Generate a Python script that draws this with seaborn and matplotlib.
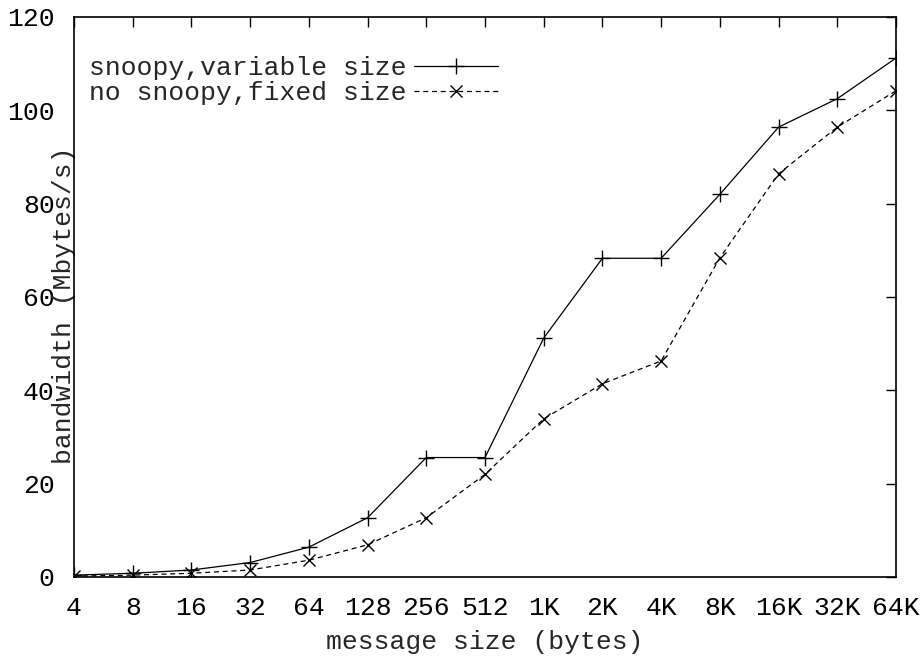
import matplotlib
matplotlib.use("Agg")
import matplotlib.pyplot as plt
import seaborn as sns
import pandas as pd
import numpy as np

sizes = ["4", "8", "16", "32", "64", "128", "256", "512", "1K", "2K", "4K", "8K", "16K", "32K", "64K"]
snoopy_variable = [0.4, 0.8, 1.5, 3.1, 6.4, 12.7, 25.6, 25.6, 51.2, 68.3, 68.3, 82.0, 96.4, 102.5, 111.2]
nosnoopy_fixed = [0.2, 0.4, 0.8, 1.5, 3.6, 6.9, 12.7, 22.0, 33.9, 41.4, 46.3, 68.4, 86.4, 96.4, 104.2]
series_names = ["snoopy,variable size", "no snoopy,fixed size"]
y_ticks = [0, 20, 40, 60, 80, 100, 120]

sns.set_style("white")
plt.rcParams["font.family"] = ["Liberation Mono", "DejaVu Sans Mono"]
plt.rcParams["font.size"] = 19

fig = plt.figure(figsize=(9.24, 6.6), dpi=100)
ax = fig.add_axes([74/924, 1-577/660, (896-74)/924, (577-17)/660])

pos = np.arange(len(sizes))
df1 = pd.DataFrame({"pos": pos, "bw": snoopy_variable})
df2 = pd.DataFrame({"pos": pos, "bw": nosnoopy_fixed})

sns.lineplot(data=df1, x="pos", y="bw", ax=ax, color="black", lw=0.9,
             marker="+", markersize=11, markeredgewidth=1.0, markeredgecolor="black",
             label=series_names[0])
sns.lineplot(data=df2, x="pos", y="bw", ax=ax, color="black", lw=0.9,
             linestyle=(0, (4, 3)), marker="x", markersize=8, markeredgewidth=1.0,
             markeredgecolor="black", label=series_names[1])

ax.set_xlim(0, len(sizes) - 1)
ax.set_ylim(0, 120)
ax.set_xticks(pos)
ax.set_xticklabels(sizes)
ax.set_yticks(y_ticks)
ax.tick_params(direction="in", length=7, width=1, top=True, right=True,
               labeltop=False, labelright=False, pad=14, labelsize=19, colors="black")
for s in ax.spines.values():
    s.set_color("black")
    s.set_linewidth(1.2)

ax.set_xlabel("message size (bytes)", fontsize=19, labelpad=7)
ax.set_ylabel("bandwidth (Mbytes/s)", fontsize=19)
ax.yaxis.set_label_coords(2/822, (577-305)/560)

leg = ax.legend(loc="upper right", bbox_to_anchor=((498-74)/822, 1 - (56-17)/560),
                frameon=False, markerfirst=False, handlelength=3.2, handletextpad=0.25,
                borderaxespad=0, borderpad=0, labelspacing=0.05, numpoints=1, fontsize=19)

fig.savefig("out.png", dpi=100)
